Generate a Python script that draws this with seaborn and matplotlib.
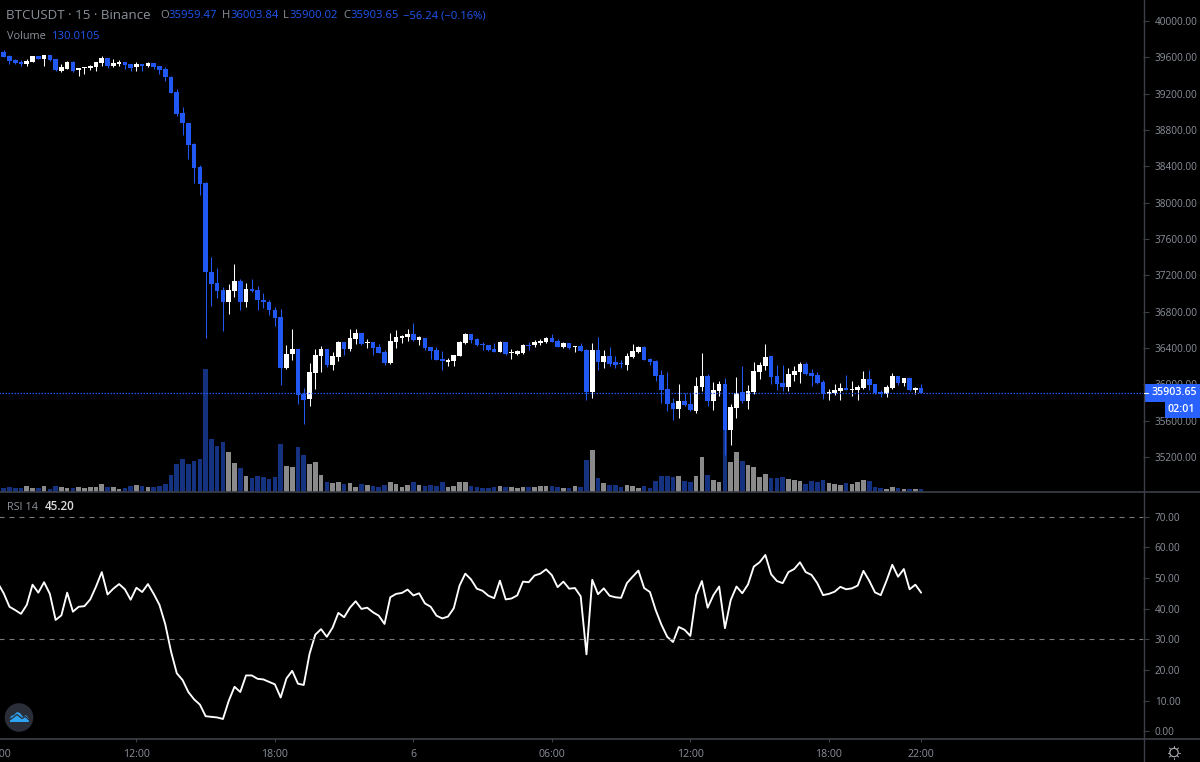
import matplotlib
matplotlib.use('Agg')
import matplotlib.pyplot as plt
import numpy as np
import pandas as pd
import seaborn as sns
from matplotlib.patches import Circle, Polygon, Rectangle

# BTCUSDT 15m candles
opens = [39662, 39614, 39570, 39545, 39523, 39548, 39614, 39581, 39625, 39578,
         39453, 39475, 39548, 39460, 39479, 39479, 39497, 39537, 39596, 39504,
         39526, 39545, 39526, 39490, 39526, 39504, 39537, 39504, 39468, 39387,
         39221, 38987, 38873, 38646, 38392, 38216, 37240, 37115, 37038, 36906,
         37027, 37134, 36906, 37046, 37035, 36928, 36906, 36818, 36738, 36179,
         36330, 36389, 35893, 35835, 36124, 36311, 36389, 36212, 36300, 36466,
         36389, 36499, 36565, 36451, 36466, 36411, 36356, 36231, 36466, 36510,
         36517, 36554, 36488, 36510, 36411, 36378, 36278, 36245, 36260, 36311,
         36458, 36550, 36499, 36443, 36429, 36389, 36359, 36466, 36341, 36330,
         36345, 36436, 36429, 36458, 36466, 36510, 36477, 36411, 36451, 36407,
         36422, 36378, 35912, 36378, 36245, 36311, 36245, 36231, 36212, 36297,
         36356, 36411, 36278, 36256, 36102, 35948, 35794, 35725, 35816, 35783,
         35706, 35970, 36091, 35819, 35923, 36003, 35497, 35739, 35912, 35816,
         35912, 36132, 36201, 36311, 36091, 36014, 35970, 36102, 36132, 36223,
         36124, 36102, 36025, 35896, 35907, 35926, 35959, 35937, 35940, 35959,
         36058, 36003, 35915, 35893, 35959, 36091, 36014, 36069, 35934, 35959.47]
highs = [39680, 39625, 39578, 39570, 39581, 39614, 39614, 39625, 39625, 39581,
         39526, 39559, 39556, 39486, 39493, 39519, 39548, 39618, 39596, 39581,
         39574, 39545, 39526, 39548, 39526, 39548, 39537, 39504, 39490, 39398,
         39251, 39053, 38877, 38657, 38414, 38227, 37398, 37280, 37071, 37104,
         37324, 37159, 37112, 37159, 37082, 37002, 36925, 36851, 36829, 36432,
         36609, 36389, 35959, 36231, 36389, 36418, 36389, 36359, 36477, 36466,
         36609, 36609, 36565, 36495, 36466, 36443, 36378, 36565, 36598, 36543,
         36609, 36675, 36532, 36510, 36411, 36411, 36367, 36293, 36319, 36477,
         36565, 36550, 36507, 36466, 36429, 36451, 36477, 36466, 36389, 36374,
         36443, 36466, 36488, 36499, 36521, 36554, 36499, 36466, 36451, 36422,
         36451, 36389, 36451, 36521, 36378, 36411, 36311, 36267, 36344, 36443,
         36422, 36422, 36289, 36267, 36154, 36132, 35849, 36003, 35904, 35904,
         36080, 36341, 36113, 36025, 36036, 36069, 35783, 36080, 36201, 35992,
         36245, 36245, 36443, 36311, 36212, 36212, 36179, 36201, 36245, 36245,
         36168, 36135, 36047, 35948, 36003, 36014, 36102, 36036, 35992, 36146,
         36157, 36003, 35937, 35989, 36124, 36091, 36069, 36069, 35974, 36003.84]
lows = [39607, 39526, 39526, 39504, 39504, 39548, 39578, 39504, 39559, 39449,
        39435, 39468, 39438, 39394, 39416, 39460, 39446, 39504, 39486, 39490,
        39504, 39471, 39449, 39446, 39446, 39493, 39471, 39416, 39342, 39210,
        38951, 38741, 38480, 38216, 38084, 36513, 36862, 36947, 36590, 36774,
        36964, 36818, 36854, 37016, 36818, 36843, 36763, 36645, 35992, 36168,
        36267, 35783, 35563, 35764, 35948, 36132, 36190, 36157, 36256, 36322,
        36367, 36443, 36432, 36400, 36322, 36341, 36212, 36223, 36400, 36451,
        36477, 36480, 36432, 36378, 36278, 36267, 36157, 36201, 36201, 36311,
        36447, 36458, 36421, 36378, 36363, 36359, 36359, 36322, 36278, 36319,
        36330, 36378, 36411, 36429, 36451, 36469, 36411, 36403, 36392, 36359,
        36367, 35827, 35852, 36157, 36179, 36201, 36179, 36179, 36157, 36289,
        36345, 36267, 36212, 36033, 35794, 35706, 35607, 35626, 35761, 35706,
        35684, 35929, 35761, 35717, 35871, 35221, 35332, 35629, 35794, 35728,
        35893, 36058, 36157, 36003, 35937, 35926, 35926, 36036, 36018, 36102,
        35981, 36003, 35838, 35827, 35882, 35827, 35934, 35871, 35827, 35948,
        35937, 35893, 35860, 35860, 35948, 35992, 35981, 35926, 35893, 35900.02]
closes = [39607, 39556, 39534, 39526, 39559, 39614, 39578, 39625, 39570, 39460,
          39490, 39548, 39453, 39486, 39493, 39508, 39545, 39596, 39504, 39537,
          39548, 39515, 39486, 39526, 39504, 39537, 39493, 39457, 39380, 39210,
          38976, 38873, 38635, 38381, 38205, 37236, 37104, 37027, 36906, 37035,
          37134, 36906, 37046, 37024, 36928, 36906, 36818, 36727, 36179, 36330,
          36389, 35882, 35827, 36132, 36319, 36389, 36212, 36311, 36466, 36389,
          36510, 36565, 36443, 36466, 36400, 36345, 36231, 36477, 36521, 36532,
          36554, 36488, 36521, 36396, 36367, 36267, 36253, 36267, 36319, 36466,
          36550, 36488, 36429, 36429, 36378, 36359, 36466, 36330, 36359, 36363,
          36436, 36418, 36466, 36477, 36510, 36469, 36411, 36451, 36400, 36422,
          36367, 35912, 36378, 36245, 36311, 36223, 36212, 36220, 36311, 36367,
          36411, 36267, 36249, 36091, 35937, 35783, 35725, 35816, 35769, 35714,
          35981, 36091, 35819, 35937, 36003, 35497, 35750, 35904, 35816, 35923,
          36143, 36212, 36300, 36080, 36003, 35970, 36113, 36146, 36223, 36113,
          36091, 36014, 35893, 35915, 35934, 35959, 35934, 35948, 35970, 36058,
          35992, 35904, 35893, 35970, 36091, 36014, 36069, 35934, 35959, 35903.65]
volumes = [205, 260, 205, 205, 316, 205, 205, 316, 149, 316,
           260, 205, 205, 260, 205, 260, 260, 428, 260, 260,
           149, 205, 316, 372, 316, 260, 260, 316, 428, 930,
           1525, 1823, 1525, 1711, 1823, 6845, 2939, 2530, 2771, 2213,
           1581, 1321, 874, 763, 874, 818, 707, 818, 2678, 1432,
           1376, 2474, 2027, 1525, 1637, 930, 558, 465, 539, 428,
           465, 260, 428, 372, 316, 260, 372, 539, 428, 260,
           372, 558, 372, 316, 372, 316, 539, 260, 316, 539,
           521, 316, 260, 205, 205, 260, 316, 260, 260, 205,
           260, 260, 260, 316, 316, 316, 260, 205, 205, 316,
           260, 1767, 2325, 763, 465, 372, 372, 260, 372, 316,
           205, 316, 205, 577, 874, 874, 818, 874, 577, 521,
           874, 1934, 930, 651, 521, 3460, 1655, 2213, 1711, 1469,
           1358, 818, 967, 763, 763, 818, 707, 651, 577, 409,
           577, 521, 651, 465, 409, 372, 465, 409, 521, 651,
           577, 260, 205, 149, 260, 205, 149, 149, 149, 130.01]
# first value belongs to the 06:00 bar, just off the left edge
rsi_values = [48.3, 45.0, 40.6, 39.5, 38.3, 41.2, 47.8, 45.2, 48.6, 44.8, 36.3,
              37.8, 45.2, 39.0, 40.6, 40.8, 43.0, 47.2, 51.9, 44.6, 46.5,
              48.0, 46.3, 42.9, 46.8, 45.4, 48.0, 44.8, 41.2, 34.9, 26.0,
              18.9, 16.7, 12.8, 10.4, 8.7, 4.9, 4.7, 4.5, 4.0, 9.9,
              14.5, 12.8, 18.2, 18.2, 17.1, 16.9, 16.1, 15.3, 11.0, 17.2,
              19.7, 15.5, 15.1, 25.2, 31.5, 33.3, 30.8, 33.8, 38.6, 37.2,
              40.3, 42.4, 39.9, 40.3, 38.8, 37.7, 35.0, 43.7, 44.8, 45.1,
              46.2, 44.3, 45.0, 41.7, 40.6, 37.7, 36.8, 37.4, 40.1, 47.5,
              51.4, 49.5, 46.5, 45.8, 44.2, 43.4, 49.1, 43.0, 43.3, 44.3,
              48.8, 48.6, 50.8, 51.4, 52.8, 50.9, 47.0, 48.8, 46.5, 46.7,
              44.0, 25.1, 49.4, 44.7, 46.6, 44.2, 43.7, 43.5, 48.3, 50.4,
              52.4, 46.7, 45.4, 39.5, 34.7, 30.8, 29.1, 34.0, 33.1, 31.1,
              44.4, 49.0, 40.3, 44.4, 47.2, 33.6, 42.8, 47.2, 45.0, 47.9,
              53.7, 55.1, 57.5, 51.2, 49.0, 48.3, 51.9, 52.9, 55.1, 51.9,
              51.0, 48.3, 44.4, 44.8, 45.5, 47.1, 46.3, 46.6, 47.5, 52.3,
              49.1, 45.3, 44.4, 49.1, 54.3, 50.4, 52.9, 46.3, 47.8, 45.2]

price_ticks = list(range(35200, 40001, 400))
rsi_ticks = [0, 10, 20, 30, 40, 50, 60, 70]
time_ticks = [-1, 23, 47, 71, 95, 119, 143, 159]
time_labels = ['06:00', '12:00', '18:00', '6', '06:00', '12:00', '18:00', '22:00']

BLUE = '#2157f3'
VOL_BLUE = '#14327f'
VOL_GREY = '#8a8a8a'
LABEL = '#8b909a'
LINE = '#3c3f48'
W, H = 1200, 762

sns.set_theme(style='dark', rc={'axes.facecolor': 'black', 'figure.facecolor': 'black',
                                'axes.grid': False})
plt.rcParams['font.family'] = ['Open Sans', 'DejaVu Sans']

candles = pd.DataFrame({'idx': np.arange(len(opens)), 'open': opens, 'high': highs,
                        'low': lows, 'close': closes, 'volume': volumes})
candles['dir'] = np.where(candles['close'] >= candles['open'], 'up', 'down')
rsi = pd.DataFrame({'idx': np.arange(-1, len(rsi_values) - 1), 'rsi': rsi_values})


def pane(top, bottom):
    # axes poke out 6px left of the figure so the 06:00 label gets cut like the original
    return [-6 / W, 1 - bottom / H, 1149 / W, (bottom - top) / H]


xlim = (-1.68, 197.45)
fig = plt.figure(figsize=(12, 7.62), dpi=100, facecolor='black')

# volume sits under the candles in the same pane
ax_vol = fig.add_axes(pane(0, 491.7))
sns.barplot(data=candles, x='idx', y='volume', hue='dir', palette={'up': VOL_GREY, 'down': VOL_BLUE},
            native_scale=True, dodge=False, width=0.8, saturation=1, errorbar=None, legend=False,
            linewidth=0, edgecolor='none', ax=ax_vol)
ax_vol.set_ylim(0, 27430)
ax_vol.set_xlim(*xlim)
ax_vol.set_axis_off()

ax = fig.add_axes(pane(0, 491.7))
ax.patch.set_alpha(0)
for d, color in [('up', 'white'), ('down', BLUE)]:
    part = candles[candles['dir'] == d]
    ax.vlines(part['idx'], part['low'], part['high'], color=color, lw=0.75)
    body = (part['close'] - part['open']).abs()
    ax.bar(part['idx'], body, bottom=part[['open', 'close']].min(axis=1), width=0.8, color=color,
           lw=0, edgecolor='none')
last_close = closes[-1]
ax.axhline(last_close, color=BLUE, lw=0.9, ls=(0, (1.2, 1.2)))
ax.set_xlim(*xlim)
ax.set_ylim(34817, 40231)
ax.yaxis.tick_right()
ax.set_yticks(price_ticks)
ax.set_yticklabels([f'{p:.2f}' for p in price_ticks])
ax.set_xticks([])

ax_rsi = fig.add_axes(pane(492.7, 738.3))
sns.lineplot(data=rsi, x='idx', y='rsi', color='white', lw=1.35, ax=ax_rsi, errorbar=None)
for level in (70, 30):
    ax_rsi.axhline(level, color='#7a7a7a', lw=0.8, ls=(0, (4.5, 4.5)))
ax_rsi.set_xlim(*xlim)
ax_rsi.set_ylim(-2.3, 77.8)
ax_rsi.yaxis.tick_right()
ax_rsi.set_yticks(rsi_ticks)
ax_rsi.set_yticklabels([f'{v:.2f}' for v in rsi_ticks])
ax_rsi.set_xticks(time_ticks)
ax_rsi.set_xticklabels(time_labels)
ax_rsi.set_xlabel('')
ax_rsi.set_ylabel('')

for a in (ax, ax_rsi):
    for side in a.spines:
        a.spines[side].set_visible(False)
    a.tick_params(axis='y', colors=LINE, labelcolor=LABEL, length=4, width=0.8, pad=4.5, labelsize=7.2,
                  left=False, right=True)
ax_rsi.tick_params(axis='x', colors=LINE, labelcolor=LABEL, length=3, width=0.8, pad=5, labelsize=7.6,
                   bottom=True)

# overlay in pixel coordinates for the chrome around the chart
ov = fig.add_axes([0, 0, 1, 1], zorder=10)
ov.set_xlim(0, W)
ov.set_ylim(H, 0)
ov.set_axis_off()
ov.patch.set_alpha(0)
ov.axhline(492.2, color=LINE, lw=1.2)
ov.axhline(738.5, color=LINE, lw=1.2)
ov.axvline(1143.5, color=LINE, lw=1)

# header legend
ov.text(6.5, 15.5, 'BTCUSDT · 15 · Binance', color=LABEL, fontsize=9.6, va='center')
for x, letter, x_val, val in [(160, 'O', 168, '35959.47'), (222, 'H', 230, '36003.84'),
                              (283, 'L', 289, '35900.02'), (343, 'C', 350, '35903.65')]:
    ov.text(x, 15.5, letter, color=LABEL, fontsize=8.1, va='center')
    ov.text(x_val, 15.5, val, color=BLUE, fontsize=8.1, va='center')
ov.text(403, 15.5, '−56.24 (−0.16%)', color=BLUE, fontsize=8.1, va='center')
ov.text(7, 36.5, 'Volume', color=LABEL, fontsize=7.8, va='center')
ov.text(52, 36.5, '130.0105', color=BLUE, fontsize=8.1, va='center')
ov.text(7, 507, 'RSI 14', color=LABEL, fontsize=7.8, va='center')
ov.text(45, 507, '45.20', color='#dcdcdc', fontsize=8.4, va='center', fontweight='semibold')

# last price and countdown tags
ov.add_patch(Rectangle((1143.5, 384), 57, 17.5, color='#2962ff', lw=0))
ov.add_patch(Rectangle((1165, 402), 35, 16, color='#2962ff', lw=0))
ov.plot([1144, 1148], [393, 393], color='white', lw=0.8)
ov.text(1151.5, 392.8, '35903.65', color='white', fontsize=7.7, va='center', fontweight='semibold')
ov.text(1168, 409.8, '02:01', color='white', fontsize=7.7, va='center', fontweight='semibold')

# logo badge
ov.add_patch(Circle((19, 717.5), 14.3, color='#2a2e39', lw=0))
ov.add_patch(Polygon([(10, 720), (11, 716), (14, 715), (17, 712), (20, 713), (23, 717), (26, 715),
                      (29, 719), (29, 722), (10, 722)], closed=True, color='#2ea3ef', lw=0))
ov.plot([10.5, 17, 22, 25.5, 29], [719.5, 714.5, 718.5, 716.5, 720], color='#2a2e39', lw=0.9)

# settings icon
ov.add_patch(Circle((1174, 752.5), 4.2, fill=False, ec='#b4b7be', lw=0.8))
for ang in np.arange(0, 2 * np.pi, np.pi / 4):
    ov.plot([1174 + 5 * np.cos(ang), 1174 + 6.4 * np.cos(ang)],
            [752.5 + 5 * np.sin(ang), 752.5 + 6.4 * np.sin(ang)], color='#b4b7be', lw=0.7)

fig.savefig('out.png', dpi=100, facecolor='black')
